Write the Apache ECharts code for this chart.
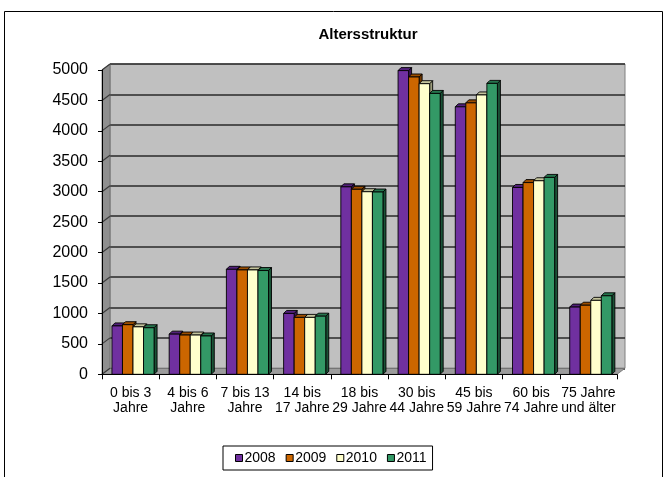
<!DOCTYPE html>
<html>
<head>
<meta charset="utf-8">
<script src="https://cdn.jsdelivr.net/npm/echarts@6/dist/echarts.min.js"></script>
<style>
  html, body { margin: 0; padding: 0; background: #fff; }
  #chart { width: 666px; height: 477px; }
</style>
</head>
<body>
<div id="chart"></div>
<script>
// Einwohner nach Altersgruppen, 2008 bis 2011
const categories = ['0 bis 3\nJahre', '4 bis 6\nJahre', '7 bis 13\nJahre', '14 bis\n17 Jahre', '18 bis\n29 Jahre',
                    '30 bis\n44 Jahre', '45 bis\n59 Jahre', '60 bis\n74 Jahre', '75 Jahre\nund älter'];
const years = ['2008', '2009', '2010', '2011'];
const v2008 = [795, 660, 1725, 1000, 3080, 4990, 4395, 3070, 1105];
const v2009 = [815, 645, 1715, 935, 3040, 4885, 4460, 3150, 1135];
const v2010 = [780, 645, 1715, 935, 3000, 4775, 4590, 3180, 1215];
const v2011 = [765, 630, 1705, 955, 2995, 4615, 4780, 3235, 1290];
const yTicks = [0, 500, 1000, 1500, 2000, 2500, 3000, 3500, 4000, 4500, 5000];

const seriesValues = [v2008, v2009, v2010, v2011];
const FONT = '"Liberation Sans", Arial, sans-serif';

// Farben: Vorderseite, Deckfläche, Seitenfläche
const palette = [
  { front: '#7030A0', top: '#52207a', side: '#3a1558' },
  { front: '#CC6600', top: '#9c4e00', side: '#723900' },
  { front: '#FFFFCC', top: '#c4c49c', side: '#9a9a7a' },
  { front: '#339966', top: '#26744d', side: '#1a5236' }
];

// Raumtiefe der Rückwand und der Säulen
const WALL_DX = 8, WALL_DY = -6;
const BAR_D = 3;
const BAR_FRAC = 0.184;     // Säulenbreite relativ zur Kategorie
const GROUP_SHIFT = 2.4;    // Versatz der Säulengruppe nach rechts

const chart = echarts.init(document.getElementById('chart'), null, { renderer: 'canvas' });

function wallItem(params, api) {
  const bw = api.size([1, 0])[0];
  const xL = api.coord([0, 0])[0] - bw / 2;
  const xR = api.coord([categories.length - 1, 0])[0] + bw / 2;
  const y0 = api.coord([0, 0])[1];
  const yT = api.coord([0, yTicks[yTicks.length - 1]])[1];
  const children = [];
  // linke Seitenwand
  children.push({
    type: 'polygon',
    shape: { points: [[xL, yT], [xL + WALL_DX, yT + WALL_DY], [xL + WALL_DX, y0 + WALL_DY], [xL, y0]] },
    style: { fill: '#8f8f8f', stroke: '#6a6a6a', lineWidth: 0.8 }
  });
  // Boden
  children.push({
    type: 'polygon',
    shape: { points: [[xL, y0], [xL + WALL_DX, y0 + WALL_DY], [xR + WALL_DX, y0 + WALL_DY], [xR, y0]] },
    style: { fill: '#9c9c9c', stroke: '#6a6a6a', lineWidth: 0.8 }
  });
  // Gitterlinien auf der Seitenwand
  yTicks.forEach(function (t) {
    const y = api.coord([0, t])[1];
    children.push({
      type: 'line',
      shape: { x1: xL, y1: y, x2: xL + WALL_DX, y2: y + WALL_DY },
      style: { stroke: '#3a3a3a', lineWidth: 1.2 }
    });
  });
  return { type: 'group', silent: true, children: children };
}

function barRenderer(s) {
  return function (params, api) {
    const idx = api.value(0);
    const val = api.value(1);
    const top = api.coord([idx, val]);
    const base = api.coord([idx, 0]);
    const bw = api.size([1, 0])[0];
    const w = bw * BAR_FRAC;
    const x = top[0] + GROUP_SHIFT - 2 * w + s * w;
    const yt = top[1], y0 = base[1];
    const c = palette[s];
    const edge = { stroke: '#000', lineWidth: 0.9 };
    return {
      type: 'group',
      children: [
        { type: 'polygon',
          shape: { points: [[x + w, yt], [x + w + BAR_D, yt - BAR_D], [x + w + BAR_D, y0 - BAR_D], [x + w, y0]] },
          style: Object.assign({ fill: c.side }, edge) },
        { type: 'polygon',
          shape: { points: [[x, yt], [x + BAR_D, yt - BAR_D], [x + w + BAR_D, yt - BAR_D], [x + w, yt]] },
          style: Object.assign({ fill: c.top }, edge) },
        { type: 'rect',
          shape: { x: x, y: yt, width: w, height: y0 - yt },
          style: Object.assign({ fill: c.front }, edge) }
      ]
    };
  };
}

const series = [
  // Seitenwand und Boden des Diagrammraums
  { type: 'custom', name: 'wall', xAxisIndex: 0, yAxisIndex: 0, data: [[0, 0]],
    renderItem: wallItem, silent: true, z: 1 }
];
years.forEach(function (y, s) {
  series.push({
    type: 'custom',
    name: y,
    xAxisIndex: 0, yAxisIndex: 0,
    data: seriesValues[s].map(function (v, i) { return [i, v]; }),
    renderItem: barRenderer(s),
    itemStyle: { color: palette[s].front },
    z: 3
  });
});

const option = {
  animation: false,
  backgroundColor: '#fff',
  title: {
    text: 'Altersstruktur',
    left: 363, top: 22, textAlign: 'center',
    textStyle: { fontFamily: FONT, fontSize: 15, fontWeight: 'bold', color: '#000' }
  },
  graphic: [
    { type: 'rect', z: -10, silent: true,
      shape: { x: 4.5, y: 11.5, width: 658, height: 480 },
      style: { fill: 'none', stroke: '#000', lineWidth: 1 } }
  ],
  legend: {
    data: years.map(function (y, s) {
      return { name: y, itemStyle: { color: palette[s].front, borderColor: '#000', borderWidth: 1 } };
    }),
    left: 223, top: 446,
    icon: 'rect',
    itemWidth: 7, itemHeight: 7, itemGap: 10,
    padding: [5, 6, 5, 12],
    borderColor: '#000', borderWidth: 1,
    textStyle: { fontFamily: FONT, fontSize: 14, color: '#000', padding: [0, 0, 0, -3] }
  },
  grid: [
    // Vorderebene: Achsen, Beschriftungen, Säulen
    { left: 102, right: 49, top: 70, bottom: 102.7, containLabel: false },
    // Rückwand mit Gitterlinien, nach hinten versetzt
    { left: 102 + WALL_DX, right: 49 - WALL_DX, top: 70 + WALL_DY, bottom: 102.7 - WALL_DY,
      show: true, backgroundColor: '#c0c0c0', borderColor: '#808080', borderWidth: 1, z: 0 }
  ],
  xAxis: [
    { type: 'category', gridIndex: 0, data: categories, boundaryGap: true, z: 5,
      axisLine: { show: true, lineStyle: { color: '#000', width: 1 } },
      axisTick: { show: true, length: 5, inside: false, lineStyle: { color: '#000' } },
      axisLabel: { interval: 0, fontFamily: FONT, fontSize: 14, lineHeight: 15, color: '#000', margin: 11 } },
    { type: 'category', gridIndex: 1, data: categories, show: false }
  ],
  yAxis: [
    { type: 'value', gridIndex: 0, min: 0, max: 5000, interval: 500, z: 5,
      axisLine: { show: true, lineStyle: { color: '#000', width: 1 } },
      axisTick: { show: true, length: 4, lineStyle: { color: '#000' } },
      splitLine: { show: false },
      axisLabel: { fontFamily: FONT, fontSize: 16, color: '#000', margin: 14,
                   formatter: function (v) { return yTicks.indexOf(v) >= 0 ? String(v) : ''; } } },
    { type: 'value', gridIndex: 1, min: 0, max: 5000, interval: 500,
      axisLine: { show: false }, axisTick: { show: false }, axisLabel: { show: false },
      splitLine: { show: true, lineStyle: { color: '#2a2a2a', width: 1.5 } } }
  ],
  series: series
};

chart.setOption(option);
</script>
</body>
</html>
